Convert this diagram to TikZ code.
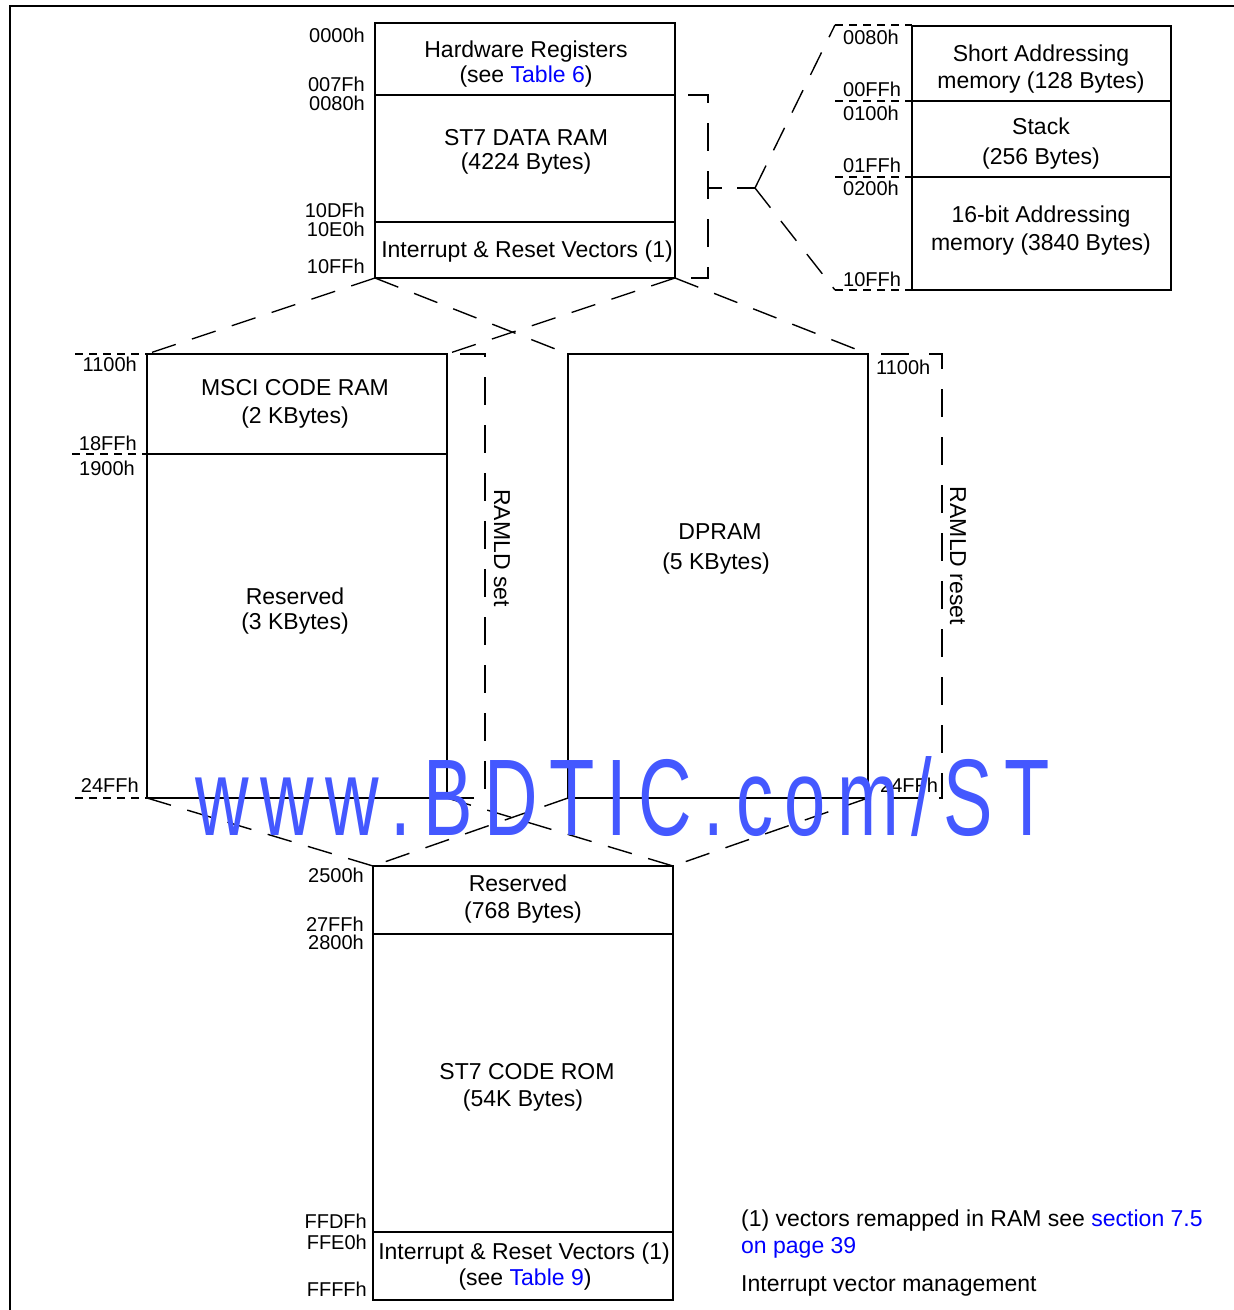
\documentclass[tikz,border=0pt]{standalone}
\usepackage{fontspec}
\setmainfont{Liberation Sans}
\usepackage{graphicx}
\definecolor{link}{RGB}{0,0,255}
\definecolor{wm}{RGB}{68,88,255}
\newcommand\wk{\kern17.2pt}
\begin{document}
\begin{tikzpicture}[x=1pt,y=-1pt,
  box/.style={draw, line width=1.8pt, inner sep=0pt, outer sep=0pt},
  txt/.style={font=\fontsize{23}{27}\selectfont, anchor=base, inner sep=0pt},
  lbl/.style={font=\fontsize{20}{24}\selectfont, inner sep=0pt},
  lblr/.style={lbl, anchor=base east},
  lbll/.style={lbl, anchor=base west},
  ldash/.style={line width=1.4pt, dash pattern=on 25pt off 17pt},
  sdash/.style={line width=1.4pt, dash pattern=on 8pt off 6pt},
  bdash/.style={line width=1.8pt, dash pattern=on 28pt off 20pt, dash phase=35pt},
  divl/.style={line width=1.6pt}]
\useasboundingbox (0,0) rectangle (1234,1310);
% frame
\draw[line width=2pt] (10,1310) -- (10,6) -- (1234,6);

% boxes
\node[box, minimum width=300pt, minimum height=255pt] (top) at (525,150.5) {};
\node[box, minimum width=259pt, minimum height=264pt] (right) at (1041.5,158) {};
\node[box, minimum width=300pt, minimum height=444pt] (msci) at (297,576) {};
\node[box, minimum width=300pt, minimum height=444pt] (dpram) at (718,576) {};
\node[box, minimum width=300pt, minimum height=434pt] (rom) at (523,1083) {};

% dividers
\draw[divl] (top.west |- 0,95) -- (top.east |- 0,95);
\draw[divl] (top.west |- 0,222) -- (top.east |- 0,222);
\draw[divl] (right.west |- 0,101) -- (right.east |- 0,101);
\draw[divl] (right.west |- 0,177) -- (right.east |- 0,177);
\draw[divl] (msci.west |- 0,454) -- (msci.east |- 0,454);
\draw[divl] (rom.west |- 0,934) -- (rom.east |- 0,934);
\draw[divl] (rom.west |- 0,1232) -- (rom.east |- 0,1232);

% bracket and fork to the right box
\coordinate (brk) at (708,188);
\coordinate (fork) at (755,188);
\coordinate (f1) at (835,25);
\coordinate (f2) at (835,290);
\draw[bdash] (top.east |- 0,95) -- (708,95) -- (708,278) -- (top.south east);
\draw[bdash, dash phase=0pt, dash pattern=on 14pt off 15pt on 20pt] (brk) -- (fork);
\draw[ldash] (fork) -- (f1);
\draw[ldash] (fork) -- (f2);
\draw[sdash] (f1) -- (f1 -| right.west);
\draw[sdash] (835,101) -- (right.west |- 0,101);
\draw[sdash] (835,177) -- (right.west |- 0,177);
\draw[sdash] (f2) -- (f2 -| right.west);

% diagonals top -> middle
\draw[ldash] (top.south west) -- (msci.north west);
\draw[ldash] (top.south west) -- (dpram.north west);
\draw[ldash] (top.south east) -- (msci.north east);
\draw[ldash] (top.south east) -- (dpram.north east);

% middle separators
\draw[sdash] (75,354) -- (msci.north west);
\draw[sdash] (72,454) -- (msci.west |- 0,454);
\draw[sdash] (75,798) -- (msci.south west);

% RAMLD brackets
\draw[bdash] (msci.north east) -- (485,354) -- (485,798) -- (msci.south east);
\draw[bdash] (dpram.north east) -- (942,354) -- (942,798) -- (dpram.south east);

% diagonals middle -> bottom
\draw[ldash] (msci.south west) -- (rom.north west);
\draw[ldash] (msci.south east) -- (rom.north east);
\draw[ldash] (dpram.south west) -- (rom.north west);
\draw[ldash] (dpram.south east) -- (rom.north east);

% texts top box
\node[txt] (hw1) at (526,57) {Hardware Registers};
\node[txt] (hw2) at (526,82) {(see \textcolor{link}{Table 6})};
\node[txt] (dr1) at (526,145) {ST7 DATA RAM};
\node[txt] (dr2) at (526,169) {(4224 Bytes)};
\node[txt] (iv1) at (527,257) {Interrupt \& Reset Vectors (1)};
% top labels
\node[lblr] (a1) at (365,42) {0000h};
\node[lblr] (a2) at (365,91) {007Fh};
\node[lblr] (a3) at (365,110) {0080h};
\node[lblr] (a4) at (365,217) {10DFh};
\node[lblr] (a5) at (365,236) {10E0h};
\node[lblr] (a6) at (365,273) {10FFh};

% right box
\node[txt] (sa1) at (1041,61) {Short Addressing};
\node[txt] (sa2) at (1041,88) {memory (128 Bytes)};
\node[txt] (st1) at (1041,134) {Stack};
\node[txt] (st2) at (1041,164) {(256 Bytes)};
\node[txt] (ba1) at (1041,222) {16-bit Addressing};
\node[txt] (ba2) at (1041,250) {memory (3840 Bytes)};
\node[lbll] (b1) at (843,44) {0080h};
\node[lbll] (b2) at (843,96) {00FFh};
\node[lbll] (b3) at (843,120) {0100h};
\node[lbll] (b4) at (843,172) {01FFh};
\node[lbll] (b5) at (843,195) {0200h};
\node[lbll] (b6) at (843,286) {10FFh};

% middle left
\node[txt] (ms1) at (295,395) {MSCI CODE RAM};
\node[txt] (ms2) at (295,423) {(2 KBytes)};
\node[txt] (rs1) at (295,604) {Reserved};
\node[txt] (rs2) at (295,629) {(3 KBytes)};
\node[lblr] (c1) at (137,371) {1100h};
\node[lblr] (c2) at (137,450) {18FFh};
\node[lblr] (c3) at (135,475) {1900h};
\node[lblr] (c4) at (139,792) {24FFh};
\node[txt, anchor=center, rotate=-90] (set) at (502,548) {RAMLD set};

% middle right
\node[txt] (dp1) at (720,539) {DPRAM};
\node[txt] (dp2) at (716,569) {(5 KBytes)};
\node[lbll] (d1) at (876,374) {1100h};
\node[lbll] (d2) at (880,792) {24FFh};
\node[txt, anchor=center, rotate=-90] (reset) at (958,556) {RAMLD reset};

% bottom
\node[txt] (r1) at (518,891) {Reserved};
\node[txt] (r2) at (523,918) {(768 Bytes)};
\node[txt] (cr1) at (527,1079) {ST7 CODE ROM};
\node[txt] (cr2) at (523,1106) {(54K Bytes)};
\node[txt] (iv2) at (524,1259) {Interrupt \& Reset Vectors (1)};
\node[txt] (iv3) at (525,1285) {(see \textcolor{link}{Table 9})};
\node[lblr] (e1) at (364,882) {2500h};
\node[lblr] (e2) at (364,931) {27FFh};
\node[lblr] (e3) at (364,949) {2800h};
\node[lblr] (e4) at (367,1228) {FFDFh};
\node[lblr] (e5) at (367,1249) {FFE0h};
\node[lblr] (e6) at (367,1296) {FFFFh};

% footnote
\node[txt, anchor=base west] (fn1) at (741,1226) {(1) vectors remapped in RAM see \textcolor{link}{section 7.5}};
\node[txt, anchor=base west, text=link] (fn2) at (741,1253) {on page 39};
\node[txt, anchor=base west] (fn3) at (741,1291) {Interrupt vector management};

% watermark
\node[anchor=base west, inner sep=0pt, text=wm, font=\fontsize{109}{120}\selectfont] (wmk) at (195,835) {\scalebox{0.68}[1]{w\wk w\wk w\wk .\wk B\wk D\wk T\wk I\wk C\wk .\wk c\wk o\wk m\wk /\wk S\wk T}};
\end{tikzpicture}
\end{document}
